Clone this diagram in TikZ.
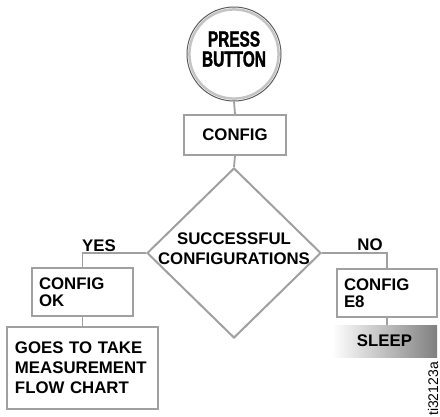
\documentclass[tikz,border=0pt]{standalone}
\usepackage{fontspec}
\setmainfont{Liberation Sans}
\newfontfamily\condfont[FakeStretch=0.7,FakeBold=1.6]{Liberation Sans}
\usetikzlibrary{shapes.geometric}
\definecolor{boxgray}{HTML}{A0A0A0}
\definecolor{ringgray}{HTML}{C4C4C4}
\definecolor{rimdark}{HTML}{5A5A5A}
\begin{document}
\begin{tikzpicture}[x=1pt,y=-1pt,
  txt/.style={font=\fontsize{16.8}{20}\selectfont\bfseries, text=black},
  box/.style={draw=boxgray, line width=2pt, fill=white, rectangle, inner sep=0pt, txt},
  tightlines/.style={font=\fontsize{16.8}{17}\selectfont\bfseries},
  conn/.style={draw=boxgray, line width=1.8pt},
]
\useasboundingbox (0,0) rectangle (440,416);
\fill[white] (0,0) rectangle (440,416);

% start circle
\node[circle, draw=rimdark, line width=1pt, fill=white, minimum size=94pt, inner sep=0pt] (press) at (234,54) {};
\draw[ringgray, line width=2.5pt] (press.center) circle (44.6pt);
\node[font=\condfont\fontsize{22}{20}\selectfont\bfseries, align=center, inner sep=0pt] (presstxt) at (234,49) {PRESS\\BUTTON};

% config
\node[box, minimum width=102pt, minimum height=40pt] (config) at (235,135) {CONFIG};

% decision
\node[diamond, draw=boxgray, line width=2pt, fill=white, minimum width=174pt, minimum height=170pt, inner sep=0pt] (dec) at (234,253) {};
\node[txt, align=center, inner sep=0pt] (dectxt) at (234,248.5) {SUCCESSFUL\\CONFIGURATIONS};

% left branch
\node[box, tightlines, minimum width=101pt, minimum height=48pt, text width=87pt, align=left] (ok) at (82.5,292) {CONFIG\\OK};
\node[box, minimum width=151pt, minimum height=82pt, text width=135pt, align=left] (goes) at (82.5,368) {GOES TO TAKE\\MEASUREMENT\\FLOW CHART};

% right branch
\node[box, tightlines, minimum width=100pt, minimum height=48pt, text width=86pt, align=left] (e8) at (387,293) {CONFIG\\E8};
\node[rectangle, left color=white, right color=black!50, minimum width=105pt, minimum height=32pt, inner sep=0pt, txt] (sleep) at (384.5,341) {SLEEP};

% connectors
\draw[conn] (press.south) -- (config.north);
\draw[conn] (config.south) -- (dec.north);
\draw[conn] (dec.west) -| (ok.north);
\draw[conn] (dec.east) -| (e8.north);
\draw[conn] (ok.south) -- (goes.north);
\draw[conn] (e8.south) -- (e8.south |- sleep.north);

% branch labels
\node[txt, anchor=base, inner sep=0pt] (yes) at (99,251) {YES};
\node[txt, anchor=base, inner sep=0pt] (no) at (370,250) {NO};

% figure id
\node[font=\fontsize{14}{14}\selectfont, rotate=90, inner sep=0pt] (figid) at (433,389) {ti32123a};
\end{tikzpicture}
\end{document}
